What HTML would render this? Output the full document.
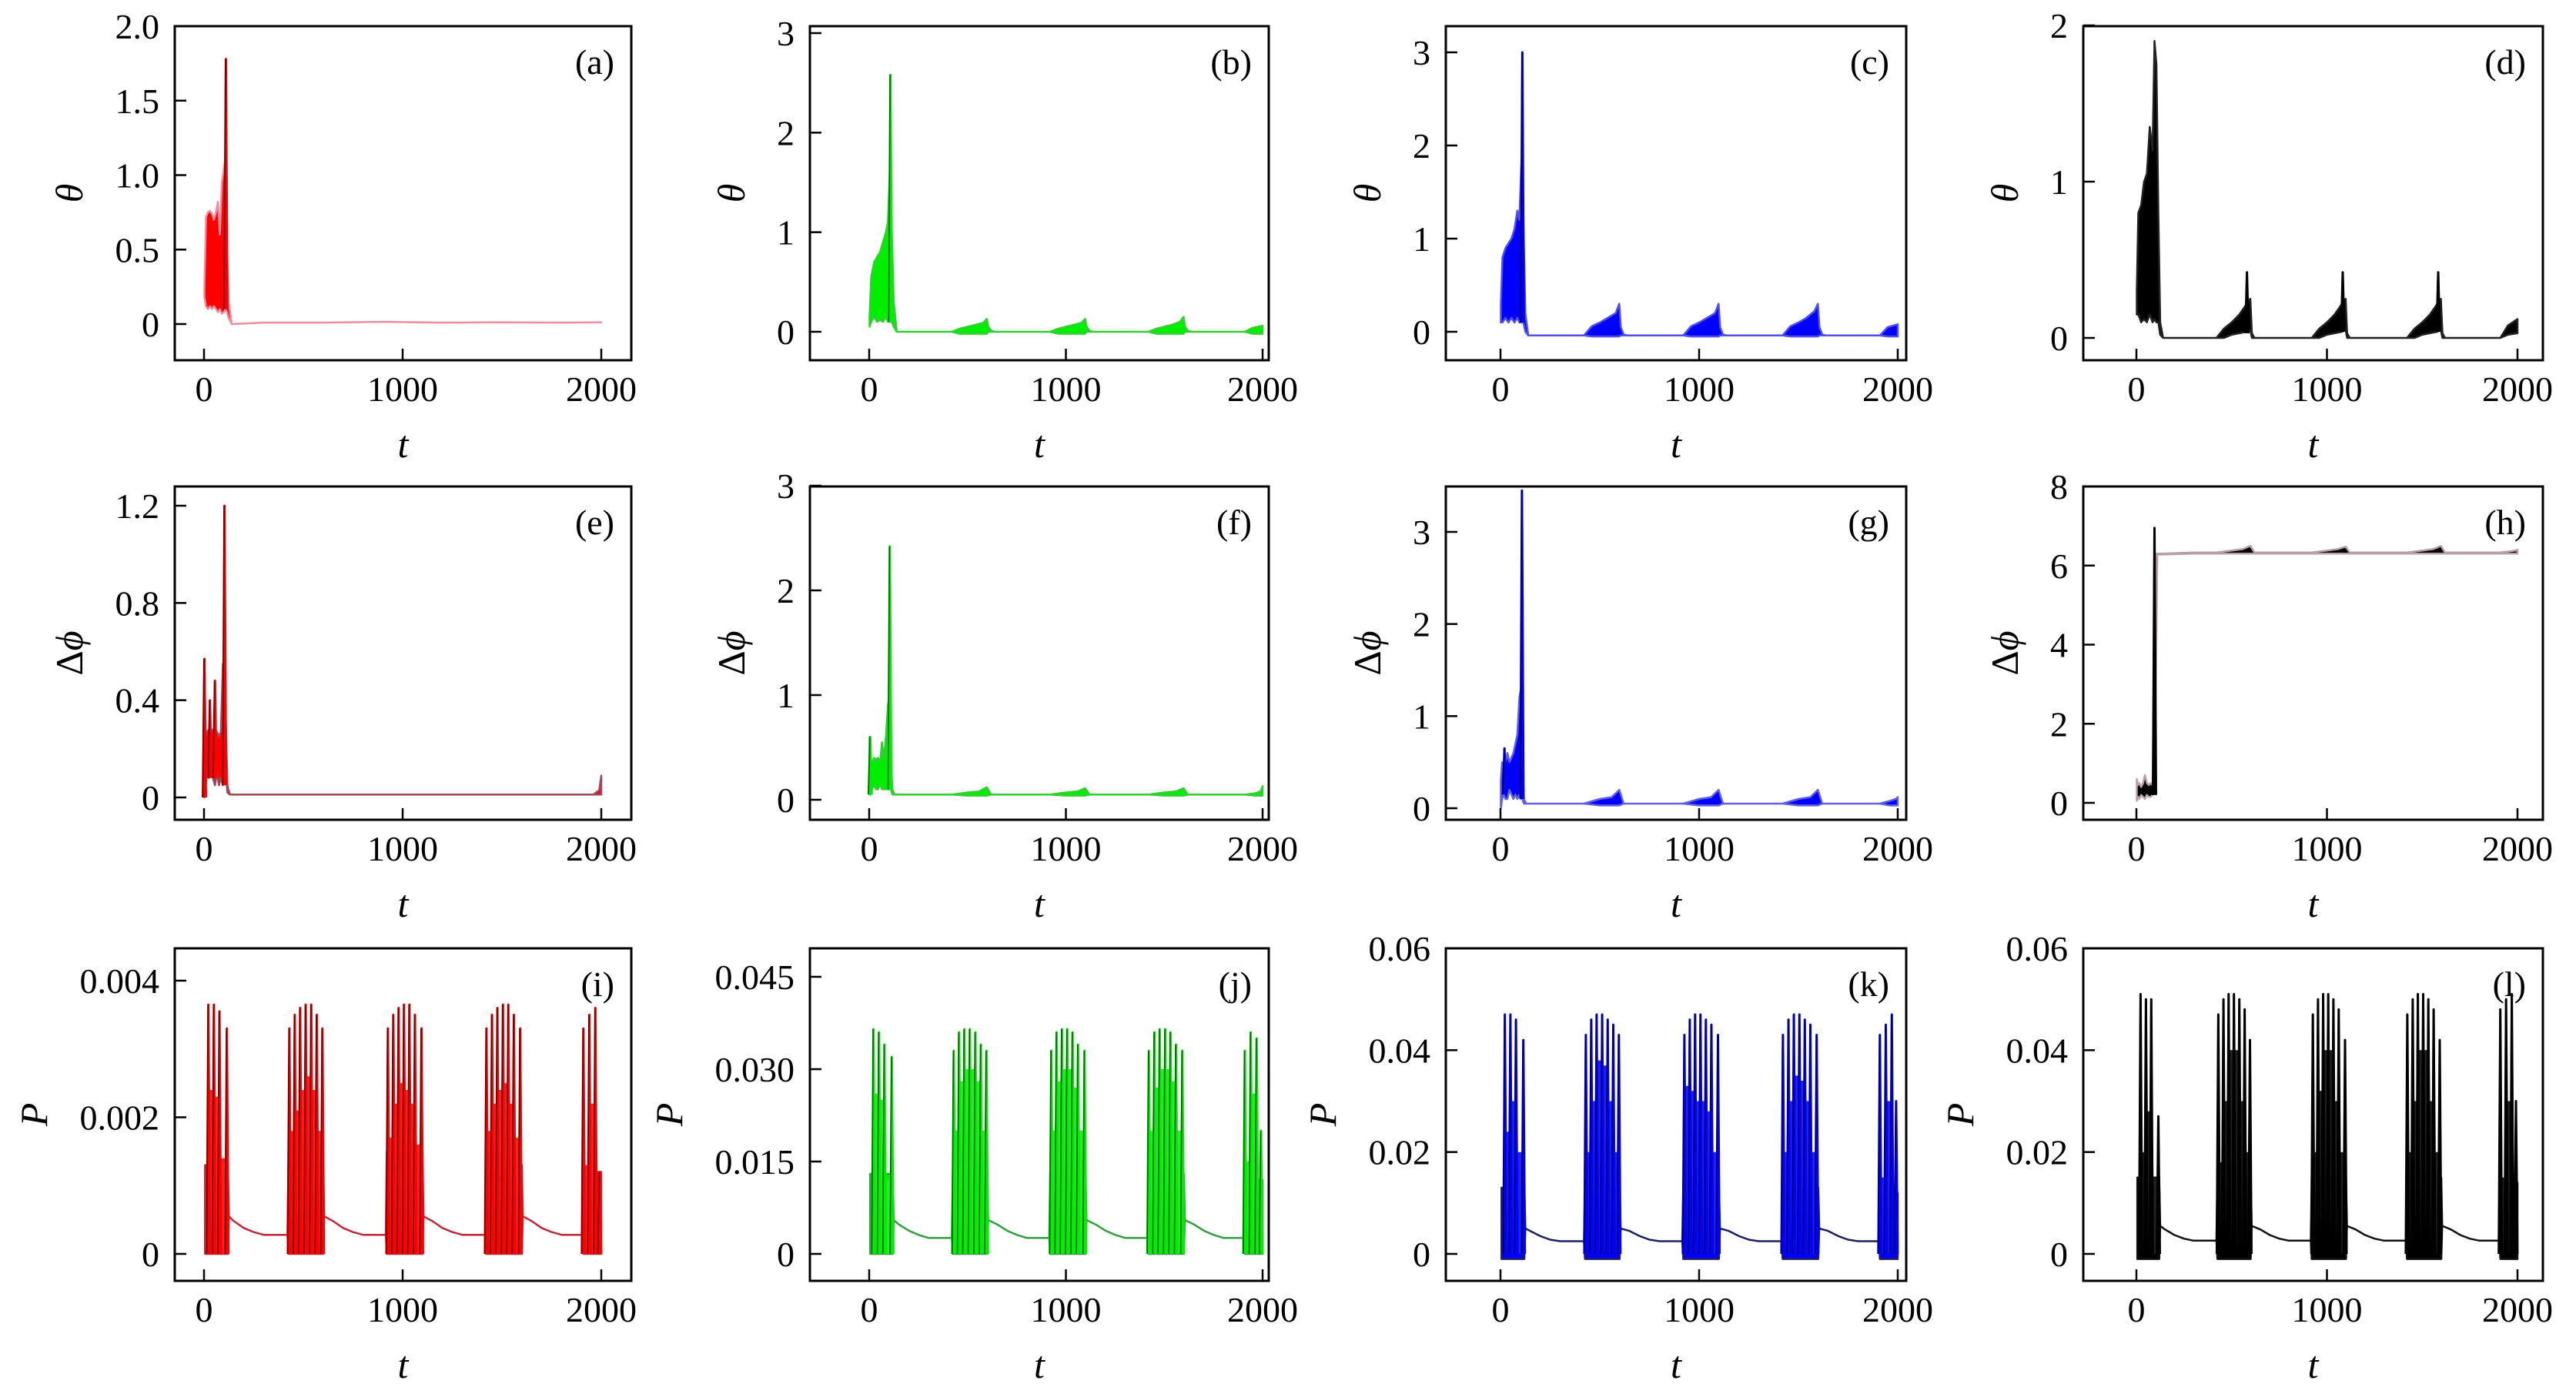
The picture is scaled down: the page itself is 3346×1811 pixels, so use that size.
<!DOCTYPE html>
<html><head><meta charset="utf-8">
<style>
html,body{margin:0;padding:0;background:#fff;}
svg{display:block;}
text{font-family:"Liberation Serif","DejaVu Serif",serif;fill:#000;}
</style></head>
<body>
<svg id="fig" xmlns="http://www.w3.org/2000/svg" width="3346" height="1811" viewBox="0 0 3346 1811"></svg>
<script>
// ---------- shared tick data ----------
const xTicks = [0, 1000, 2000];
const xTickLabels = ["0", "1000", "2000"];

// ---------- (a) theta ----------
const aT  = [2,10,20,30,40,50,60,70,80,90,100,108,116,124,140,300,600,900,1200,1500,1800,2000];
const aHi = [0.25,0.72,0.75,0.76,0.74,0.7,0.75,0.82,0.6,0.95,1.05,1.1,0.5,0.15,0.0,0.01,0.01,0.015,0.01,0.012,0.01,0.012];
const aLo = [0.18,0.12,0.1,0.12,0.1,0.12,0.1,0.08,0.1,0.07,0.08,0.1,0.08,0.04,0.0,0.01,0.01,0.015,0.01,0.012,0.01,0.012];
const aSpT = [110];
const aSpV = [1.78];
const aTicks = [0,0.5,1.0,1.5,2.0];
const aTickLabels = ["0","0.5","1.0","1.5","2.0"];

// ---------- (b),(c),(d) theta ----------
const thT = [2,10,25,40,55,70,85,95,105,115,125,140,420,460,500,540,580,598,606,620,640,920,960,1000,1040,1080,1098,1106,1120,1140,1420,1460,1500,1540,1580,1598,1606,1620,1640,1910,1950,2000];
const bHi = [0.15,0.55,0.7,0.75,0.8,0.9,1.0,1.1,1.6,1.0,0.3,0.0, 0.0,0.03,0.05,0.07,0.09,0.13,0.05,0.01,0.0, 0.0,0.03,0.05,0.07,0.09,0.13,0.05,0.01,0.0, 0.0,0.03,0.05,0.07,0.1,0.15,0.05,0.01,0.0, 0.0,0.04,0.06];
const bLo = [0.05,0.1,0.15,0.1,0.12,0.1,0.15,0.1,0.1,0.1,0.05,0.0, 0,-0.02,-0.02,-0.02,-0.02,-0.02,0,0,0, 0,-0.02,-0.02,-0.02,-0.02,-0.02,0,0,0, 0,-0.02,-0.02,-0.02,-0.02,-0.02,0,0,0, 0,-0.02,-0.02];
const bSpT = [108];
const bSpV = [2.58];
const bTicks = [0,1,2,3];
const bTickLabels = ["0","1","2","3"];

const cHi = [0.3,0.8,0.9,0.95,1.0,1.1,1.3,1.2,1.8,1.2,0.2,-0.04, -0.04,0.06,0.1,0.15,0.2,0.3,0.05,-0.03,-0.04, -0.04,0.06,0.1,0.15,0.2,0.3,0.05,-0.03,-0.04, -0.04,0.06,0.1,0.15,0.22,0.3,0.05,-0.03,-0.04, -0.04,0.05,0.08];
const cLo = [0.1,0.1,0.15,0.1,0.15,0.1,0.15,0.1,0.1,0.1,0.0,-0.04, -0.04,-0.05,-0.05,-0.05,-0.05,-0.05,-0.04,-0.04,-0.04, -0.04,-0.05,-0.05,-0.05,-0.05,-0.05,-0.04,-0.04,-0.04, -0.04,-0.05,-0.05,-0.05,-0.05,-0.05,-0.04,-0.04,-0.04, -0.04,-0.05,-0.05];
const cSpT = [110];
const cSpV = [3.0];
const cTicks = [0,1,2,3];
const cTickLabels = ["0","1","2","3"];

const dHi = [0.3,0.8,0.85,1.0,1.05,1.35,1.2,1.9,1.75,0.8,0.1,0.0, 0.0,0.06,0.1,0.15,0.22,0.25,0.03,0.0,0.0, 0.0,0.06,0.1,0.15,0.22,0.25,0.03,0.0,0.0, 0.0,0.06,0.1,0.15,0.22,0.25,0.03,0.0,0.0, 0.0,0.08,0.12];
const dLo = [0.15,0.15,0.1,0.12,0.1,0.15,0.1,0.12,0.1,0.1,0.02,0.0, 0.0,0.0,0.02,0.03,0.04,0.05,0.0,0.0,0.0, 0.0,0.0,0.02,0.03,0.04,0.05,0.0,0.0,0.0, 0.0,0.0,0.02,0.03,0.04,0.05,0.0,0.0,0.0, 0.0,0.02,0.03];
const dSpT = [580,1083,1584];
const dSpV = [0.42,0.42,0.42];
const dTicks = [0,1,2];
const dTickLabels = ["0","1","2"];

// ---------- (e)-(h) delta phi ----------
const phT = [2,8,15,25,35,45,55,65,75,85,95,103,110,118,130,300,420,500,560,598,620,700,920,1000,1060,1098,1120,1200,1420,1500,1560,1598,1620,1700,1910,1960,1990,2000];
const eHi = [0.57,0.25,0.27,0.28,0.27,0.28,0.26,0.27,0.25,0.27,0.55,0.55,0.3,0.05,0.012, 0.012,0.012,0.012,0.012,0.012,0.012,0.012, 0.012,0.012,0.012,0.012,0.012,0.012, 0.012,0.012,0.012,0.012,0.012,0.012, 0.012,0.012,0.03,0.09];
const eLo = [0.0,0.05,0.1,0.08,0.1,0.08,0.05,0.1,0.05,0.08,0.05,0.1,0.1,0.02,0.012, 0.012,0.012,0.012,0.012,0.012,0.012,0.012, 0.012,0.012,0.012,0.012,0.012,0.012, 0.012,0.012,0.012,0.012,0.012,0.012, 0.012,0.012,0.012,0.012];
const eSpT = [2,30,55,103];
const eSpV = [0.57,0.4,0.48,1.2];
const eTicks = [0,0.4,0.8,1.2];
const eTickLabels = ["0","0.4","0.8","1.2"];

const fHi = [0.6,0.3,0.35,0.4,0.38,0.4,0.35,0.55,0.4,0.6,0.9,1.0,0.4,0.1,0.05, 0.05,0.05,0.07,0.08,0.12,0.05,0.05, 0.05,0.07,0.08,0.11,0.05,0.05, 0.05,0.07,0.08,0.11,0.05,0.05, 0.05,0.06,0.08,0.13];
const fLo = [0.05,0.05,0.1,0.15,0.1,0.1,0.15,0.1,0.1,0.1,0.1,0.1,0.1,0.05,0.05, 0.05,0.05,0.04,0.04,0.04,0.05,0.05, 0.05,0.04,0.04,0.04,0.05,0.05, 0.05,0.04,0.04,0.04,0.05,0.05, 0.05,0.04,0.04,0.04];
const fSpT = [5,105];
const fSpV = [0.6,2.42];
const fTicks = [0,1,2,3];
const fTickLabels = ["0","1","2","3"];

const gHi = [0.3,0.5,0.45,0.5,0.6,0.5,0.55,0.6,0.7,0.8,1.2,1.3,0.5,0.1,0.05, 0.05,0.05,0.1,0.12,0.2,0.05,0.05, 0.05,0.1,0.12,0.2,0.05,0.05, 0.05,0.1,0.12,0.2,0.05,0.05, 0.05,0.08,0.1,0.12];
const gLo = [0.0,0.1,0.15,0.1,0.1,0.2,0.15,0.1,0.15,0.1,0.15,0.1,0.1,0.05,0.05, 0.05,0.05,0.03,0.03,0.03,0.05,0.05, 0.05,0.03,0.03,0.03,0.05,0.05, 0.05,0.03,0.03,0.03,0.05,0.05, 0.05,0.03,0.03,0.03];
const gSpT = [20,108];
const gSpV = [0.65,3.45];
const gTicks = [0,1,2,3];
const gTickLabels = ["0","1","2","3"];

const hHi = [0.6,0.45,0.5,0.4,0.5,0.7,0.5,0.45,0.5,0.45,3.4,6.3,6.3,6.3,6.3, 6.33,6.33,6.38,6.42,6.5,6.33,6.33, 6.33,6.38,6.42,6.48,6.33,6.33, 6.33,6.38,6.42,6.5,6.33,6.33, 6.33,6.36,6.38,6.4];
const hLo = [0.05,0.15,0.1,0.2,0.15,0.1,0.2,0.15,0.15,0.2,0.3,3.4,6.3,6.28,6.28, 6.3,6.3,6.3,6.3,6.3,6.3,6.3, 6.3,6.3,6.3,6.3,6.3,6.3, 6.3,6.3,6.3,6.3,6.3,6.3, 6.3,6.3,6.3,6.3];
const hSpT = [95];
const hSpV = [6.95];
const hTicks = [0,2,4,6,8];
const hTickLabels = ["0","2","4","6","8"];

// ---------- (i)-(l) P ----------
const pT = [5,120,125,150,200,250,300,420, 425,600,605,650,700,750,800,915, 920,1100,1105,1150,1200,1250,1300,1415, 1420,1600,1605,1650,1700,1750,1800,1905, 1910,2000];
const iHi = [0.0013,0.0013,0.00055,0.00048,0.00038,0.00032,0.00028,0.00028, 0.0013,0.0013,0.00055,0.00048,0.00038,0.00032,0.00028,0.00028, 0.0015,0.0015,0.00055,0.00048,0.00038,0.00032,0.00028,0.00028, 0.0013,0.0013,0.00055,0.00048,0.00038,0.00032,0.00028,0.00028, 0.0012,0.0012];
const iLo = [0,0,0.00055,0.00048,0.00038,0.00032,0.00028,0.00028, 0,0,0.00055,0.00048,0.00038,0.00032,0.00028,0.00028, 0,0,0.00055,0.00048,0.00038,0.00032,0.00028,0.00028, 0,0,0.00055,0.00048,0.00038,0.00032,0.00028,0.00028, 0,0];
const jHi = [0.013,0.013,0.0055,0.0048,0.0038,0.0031,0.0026,0.0026, 0.013,0.013,0.0055,0.0048,0.0038,0.0031,0.0026,0.0026, 0.013,0.013,0.0055,0.0048,0.0038,0.0031,0.0026,0.0026, 0.013,0.013,0.0055,0.0048,0.0038,0.0031,0.0026,0.0026, 0.012,0.012];
const jLo = [0,0,0.0055,0.0048,0.0038,0.0031,0.0026,0.0026, 0,0,0.0055,0.0048,0.0038,0.0031,0.0026,0.0026, 0,0,0.0055,0.0048,0.0038,0.0031,0.0026,0.0026, 0,0,0.0055,0.0048,0.0038,0.0031,0.0026,0.0026, 0,0];
const kHi = [0.013,0.013,0.005,0.0045,0.0035,0.0028,0.0025,0.0025, 0.013,0.013,0.005,0.0045,0.0035,0.0028,0.0025,0.0025, 0.013,0.013,0.005,0.0045,0.0035,0.0028,0.0025,0.0025, 0.013,0.013,0.005,0.0045,0.0035,0.0028,0.0025,0.0025, 0.012,0.012];
const kLo = [-0.001,-0.001,0.005,0.0045,0.0035,0.0028,0.0025,0.0025, -0.001,-0.001,0.005,0.0045,0.0035,0.0028,0.0025,0.0025, -0.001,-0.001,0.005,0.0045,0.0035,0.0028,0.0025,0.0025, -0.001,-0.001,0.005,0.0045,0.0035,0.0028,0.0025,0.0025, -0.001,-0.001];
const lHi = [0.015,0.015,0.0055,0.0048,0.0037,0.003,0.0026,0.0026, 0.015,0.015,0.0055,0.0048,0.0037,0.003,0.0026,0.0026, 0.015,0.015,0.0055,0.0048,0.0037,0.003,0.0026,0.0026, 0.015,0.015,0.0055,0.0048,0.0037,0.003,0.0026,0.0026, 0.014,0.014];
const lLo = [-0.001,-0.001,0.0055,0.0048,0.0037,0.003,0.0026,0.0026, -0.001,-0.001,0.0055,0.0048,0.0037,0.003,0.0026,0.0026, -0.001,-0.001,0.0055,0.0048,0.0037,0.003,0.0026,0.0026, -0.001,-0.001,0.0055,0.0048,0.0037,0.003,0.0026,0.0026, -0.001,-0.001];

const pSpT = [22,50,78,115, 430,457,484,512,540,568,596, 926,953,980,1007,1034,1062,1095, 1422,1450,1477,1505,1532,1560,1592, 1910,1940,1970,1992];
const iSpV = [0.00365,0.00365,0.00355,0.0033, 0.0033,0.0035,0.0036,0.00365,0.00365,0.0035,0.0033, 0.0033,0.0035,0.0036,0.00365,0.00365,0.0035,0.0033, 0.0033,0.0035,0.0036,0.00365,0.00365,0.0035,0.0033, 0.0033,0.0035,0.0036,0.0012];
const jSpV = [0.0365,0.036,0.034,0.032, 0.033,0.036,0.0365,0.0365,0.036,0.034,0.033, 0.033,0.036,0.0365,0.0365,0.036,0.034,0.033, 0.033,0.036,0.0365,0.0365,0.036,0.034,0.033, 0.033,0.036,0.035,0.02];
const kSpV = [0.047,0.047,0.046,0.042, 0.043,0.046,0.047,0.047,0.046,0.045,0.043, 0.043,0.046,0.047,0.047,0.046,0.045,0.043, 0.043,0.046,0.047,0.047,0.046,0.045,0.043, 0.043,0.045,0.047,0.03];
const lSpV = [0.051,0.05,0.05,0.027, 0.047,0.05,0.051,0.051,0.05,0.048,0.042, 0.047,0.05,0.051,0.051,0.05,0.048,0.042, 0.047,0.05,0.051,0.051,0.05,0.048,0.042, 0.048,0.05,0.051,0.03];

const pMidT = [36,64,96, 443,470,498,526,554,582, 940,967,994,1020,1048,1078, 1436,1463,1491,1518,1546,1576, 1925,1955];
const iMidV = [0.0024,0.0023,0.0014, 0.0018,0.0021,0.0024,0.0026,0.0024,0.0018, 0.0017,0.0022,0.0025,0.0024,0.0022,0.0016, 0.0018,0.0022,0.0024,0.0025,0.0022,0.0017, 0.0013,0.0022];
const jMidV = [0.026,0.025,0.012, 0.02,0.028,0.03,0.03,0.028,0.02, 0.02,0.028,0.03,0.03,0.027,0.02, 0.02,0.027,0.03,0.03,0.028,0.02, 0.015,0.026];
const kMidV = [0.024,0.03,0.02, 0.02,0.03,0.038,0.037,0.03,0.02, 0.033,0.032,0.03,0.03,0.028,0.02, 0.02,0.03,0.035,0.034,0.03,0.02, 0.015,0.03];
const lMidV = [0.02,0.028,0.015, 0.018,0.03,0.04,0.04,0.03,0.02, 0.02,0.032,0.04,0.04,0.03,0.02, 0.02,0.03,0.04,0.04,0.03,0.02, 0.015,0.03];

const iTicks = [0,0.002,0.004];
const iTickLabels = ["0","0.002","0.004"];
const jTicks = [0,0.015,0.030,0.045];
const jTickLabels = ["0","0.015","0.030","0.045"];
const kTicks = [0,0.02,0.04,0.06];
const kTickLabels = ["0","0.02","0.04","0.06"];

// ---------- layout (positions only) ----------
const colLeft = [227, 1052, 1878, 2706];
const colRight = [820, 1648, 2476, 3303];
const colX0 = [265, 1129, 1949, 2775];
const colX2000 = [781, 1640, 2465, 3270];
const rowTop = [34, 632, 1232];
const rowBottom = [468, 1065, 1664];

const RED = {fill:"#ff0000", edge:"#5a0000", mid:"#ff2020"};
const GREEN = {fill:"#00ee00", edge:"#005a00", mid:"#20f020"};
const BLUE = {fill:"#0000ff", edge:"#000050", mid:"#2020ff"};
const BLACK = {fill:"#000000", edge:"#000000", mid:"#202020"};

const panels = [
 {id:"a", col:0,row:0, yRef:[0,421,2,34], T:aT, hi:aHi, lo:aLo, spT:aSpT, spV:aSpV, ticks:aTicks, tl:aTickLabels, ylab:"theta", c:RED, line:"#f08ca0"},
 {id:"b", col:1,row:0, yRef:[0,431,3,43], T:thT, hi:bHi, lo:bLo, spT:bSpT, spV:bSpV, ticks:bTicks, tl:bTickLabels, ylab:"theta", c:GREEN, line:"#30d030"},
 {id:"c", col:2,row:0, yRef:[0,431,3,68], T:thT, hi:cHi, lo:cLo, spT:cSpT, spV:cSpV, ticks:cTicks, tl:cTickLabels, ylab:"theta", c:BLUE, line:"#5050e8"},
 {id:"d", col:3,row:0, yRef:[0,439,2,33], T:thT, hi:dHi, lo:dLo, spT:dSpT, spV:dSpV, ticks:dTicks, tl:dTickLabels, ylab:"theta", c:BLACK, line:"#222"},
 {id:"e", col:0,row:1, yRef:[0,1036,1.2,657], T:phT, hi:eHi, lo:eLo, spT:eSpT, spV:eSpV, ticks:eTicks, tl:eTickLabels, ylab:"phi", c:RED, line:"#a04858"},
 {id:"f", col:1,row:1, yRef:[0,1039,3,631], T:phT, hi:fHi, lo:fLo, spT:fSpT, spV:fSpV, ticks:fTicks, tl:fTickLabels, ylab:"phi", c:GREEN, line:"#30d030"},
 {id:"g", col:2,row:1, yRef:[0,1050,3,691], T:phT, hi:gHi, lo:gLo, spT:gSpT, spV:gSpV, ticks:gTicks, tl:gTickLabels, ylab:"phi", c:BLUE, line:"#6060e0"},
 {id:"h", col:3,row:1, yRef:[0,1043,8,632], T:phT, hi:hHi, lo:hLo, spT:hSpT, spV:hSpV, ticks:hTicks, tl:hTickLabels, ylab:"phi", c:BLACK, line:"#b8a0a8"},
 {id:"i", col:0,row:2, yRef:[0,1629,0.004,1274], T:pT, hi:iHi, lo:iLo, spT:pSpT, spV:iSpV, midT:pMidT, midV:iMidV, ticks:iTicks, tl:iTickLabels, ylab:"P", c:RED, line:"#c02838"},
 {id:"j", col:1,row:2, yRef:[0,1629,0.045,1269], T:pT, hi:jHi, lo:jLo, spT:pSpT, spV:jSpV, midT:pMidT, midV:jMidV, ticks:jTicks, tl:jTickLabels, ylab:"P", c:GREEN, line:"#30a040"},
 {id:"k", col:2,row:2, yRef:[0,1629,0.06,1232], T:pT, hi:kHi, lo:kLo, spT:pSpT, spV:kSpV, midT:pMidT, midV:kMidV, ticks:kTicks, tl:kTickLabels, ylab:"P", c:BLUE, line:"#202060"},
 {id:"l", col:3,row:2, yRef:[0,1629,0.06,1232], T:pT, hi:lHi, lo:lLo, spT:pSpT, spV:lSpV, midT:pMidT, midV:lMidV, ticks:kTicks, tl:kTickLabels, ylab:"P", c:BLACK, line:"#111"}
];

const NS = "http://www.w3.org/2000/svg";
const svg = document.getElementById("fig");
function mk(tag, attrs, parent){
  const e = document.createElementNS(NS, tag);
  for (const k in attrs) e.setAttribute(k, attrs[k]);
  (parent||svg).appendChild(e);
  return e;
}
const defs = mk("defs", {});

panels.forEach(p => {
  const L = colLeft[p.col], R = colRight[p.col], Tp = rowTop[p.row], B = rowBottom[p.row];
  const x = t => colX0[p.col] + (t - 0) * (colX2000[p.col] - colX0[p.col]) / 2000;
  const [v0, py0, v1, py1] = p.yRef;
  const y = v => py0 + (v - v0) * (py1 - py0) / (v1 - v0);

  const g = mk("g", {});
  
  

  const cp = mk("clipPath", {id:"clip-"+p.id}, defs);
  mk("rect", {x:L, y:Tp, width:R-L, height:B-Tp}, cp);

  const plot = mk("g", {"clip-path":"url(#clip-"+p.id+")"}, g);
  
  

  // band (oscillation envelope)
  let d = "";
  for (let k = 0; k < p.T.length; k++) d += (k ? "L" : "M") + x(p.T[k]).toFixed(1) + " " + y(p.hi[k]).toFixed(1);
  for (let k = p.T.length - 1; k >= 0; k--) d += "L" + x(p.T[k]).toFixed(1) + " " + y(p.lo[k]).toFixed(1);
  d += "Z";
  const band = mk("path", {d:d, fill:p.c.fill, stroke:p.line, "stroke-width":2.5, "stroke-linejoin":"round"}, plot);
  
  

  // secondary spikes
  if (p.midT) {
    let dm = "";
    for (let k = 0; k < p.midT.length; k++) {
      dm += "M" + x(p.midT[k]).toFixed(1) + " " + y(0).toFixed(1) + "L" + x(p.midT[k]).toFixed(1) + " " + y(p.midV[k]).toFixed(1);
    }
    const mid = mk("path", {d:dm, stroke:p.c.mid, "stroke-width":5, fill:"none"}, plot);
    
    
  }
  // main spikes: coloured body + thin dark edge
  let ds = "", de = "";
  const base = p.midT ? 0 : null;
  for (let k = 0; k < p.spT.length; k++) {
    const t = p.spT[k];
    let b0;
    if (base !== null) b0 = y(base);
    else {
      let j = 0; while (j < p.T.length - 1 && p.T[j+1] < t) j++;
      b0 = y(p.lo[j]);
    }
    ds += "M" + (x(t)-2).toFixed(1) + " " + b0.toFixed(1) + "L" + x(t).toFixed(1) + " " + y(p.spV[k]).toFixed(1) + "L" + (x(t)+2).toFixed(1) + " " + b0.toFixed(1);
    de += "M" + (x(t)-2.2).toFixed(1) + " " + b0.toFixed(1) + "L" + (x(t)-0.5).toFixed(1) + " " + y(p.spV[k]).toFixed(1);
  }
  const sp = mk("path", {d:ds, stroke:p.c.fill, "stroke-width":3, fill:p.c.fill, "stroke-linejoin":"round"}, plot);
  
  
  const spe = mk("path", {d:de, stroke:p.c.edge, "stroke-width":1.6, fill:"none"}, plot);
  
  

  // frame
  const fr = mk("rect", {x:L, y:Tp, width:R-L, height:B-Tp, fill:"none", stroke:"#000", "stroke-width":3}, g);
  
  

  // x ticks
  xTicks.forEach((tv, k) => {
    const tk = mk("line", {x1:x(tv), x2:x(tv), y1:B, y2:B-15, stroke:"#000", "stroke-width":2.5}, g);
    
    
    const lb = mk("text", {x:x(tv), y:B+53, "font-size":46, "text-anchor":"middle"}, g);
    lb.textContent = xTickLabels[k];
    
    
  });
  // y ticks
  let maxW = 0;
  p.ticks.forEach((tv, k) => {
    const tk = mk("line", {x1:L, x2:L+15, y1:y(tv), y2:y(tv), stroke:"#000", "stroke-width":2.5}, g);
    
    
    const lb = mk("text", {x:L-20, y:y(tv)+16, "font-size":46, "text-anchor":"end"}, g);
    lb.textContent = p.tl[k];
    
    
    let w = 0; for (const ch of p.tl[k]) w += (ch === "." ? 12 : 23);
    maxW = Math.max(maxW, w);
  });
  // x title
  const xt = mk("text", {x:(L+R)/2, y:B+126, "font-size":50, "font-style":"italic", "text-anchor":"middle"}, g);
  xt.textContent = "t";
  
  
  // y title
  const yx = L - 20 - maxW - 42;
  const yy = (Tp + B) / 2;
  const yt = mk("text", {x:yx, y:yy, "font-size":50, "text-anchor":"middle", transform:"rotate(-90 "+yx+" "+yy+")"}, g);
  if (p.ylab === "theta") { const s = mk("tspan", {"font-style":"italic"}, yt); s.textContent = "θ"; }
  else if (p.ylab === "P") { const s = mk("tspan", {"font-style":"italic"}, yt); s.textContent = "P"; }
  else { const s1 = mk("tspan", {}, yt); s1.textContent = "Δ"; const s2 = mk("tspan", {"font-style":"italic"}, yt); s2.textContent = "ϕ"; }
  
  
  // panel label
  const pl = mk("text", {x:R-22, y:Tp+62, "font-size":46, "text-anchor":"end"}, g);
  pl.textContent = "(" + p.id + ")";
  
  
});
</script>
</body></html>
